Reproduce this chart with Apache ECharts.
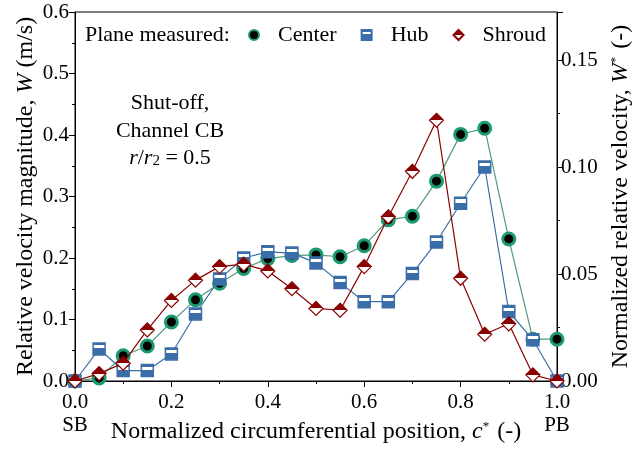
<!DOCTYPE html>
<html>
<head>
<meta charset="utf-8">
<script src="https://cdn.jsdelivr.net/npm/echarts@6/dist/echarts.min.js"></script>
<style>
html,body{margin:0;padding:0;background:#fff;}
#chart{width:639px;height:450px;}
</style>
</head>
<body>
<div id="chart"></div>
<script>
var positions = [0, 0.05, 0.1, 0.15, 0.2, 0.25, 0.3, 0.35, 0.4, 0.45, 0.5, 0.55, 0.6, 0.65, 0.7, 0.75, 0.8, 0.85, 0.9, 0.95, 1.0];
var centerW = [0, 0.005, 0.041, 0.057, 0.096, 0.132, 0.159, 0.183, 0.199, 0.204, 0.205, 0.202, 0.22, 0.262, 0.268, 0.325, 0.401, 0.411, 0.231, 0.068, 0.068];
var hubW = [0, 0.052, 0.017, 0.017, 0.044, 0.109, 0.166, 0.2, 0.21, 0.208, 0.192, 0.16, 0.129, 0.129, 0.175, 0.226, 0.289, 0.348, 0.113, 0.067, 0];
var shroudW = [0, 0.012, 0.029, 0.083, 0.131, 0.164, 0.186, 0.19, 0.179, 0.15, 0.118, 0.115, 0.186, 0.267, 0.341, 0.424, 0.167, 0.076, 0.093, 0.01, 0];
var seriesNames = ['Center', 'Hub', 'Shroud'];
var leftTicks = {min: 0, max: 0.6, interval: 0.1};
var rightTicks = {min: 0, max: 0.1725, interval: 0.05};

function pairs(v) { return positions.map(function (x, i) { return [x, v[i]]; }); }

var FONT = '"Liberation Serif", "Times New Roman", serif';
var green = '#1b9a72', greenLine = '#4f9a80', blue = '#3b6ea8', red = '#8b0000';

var chart = echarts.init(document.getElementById('chart'));
chart.setOption({
  animation: false,
  textStyle: {fontFamily: FONT, color: '#000'},
  grid: {left: 75, right: 82, top: 12, bottom: 69, show: true, borderColor: '#000', borderWidth: 1, outerBoundsMode: 'none', containLabel: false},
  legend: {
    left: 248, top: 24, itemWidth: 10, itemHeight: 10, itemGap: 24, padding: 0,
    textStyle: {fontFamily: FONT, fontSize: 22, color: '#000', padding: [0, 0, 0, 14]},
    data: [
      {name: 'Center', icon: 'circle'},
      {name: 'Hub', icon: 'rect'},
      {name: 'Shroud', icon: 'diamond'}
    ]
  },
  graphic: [
    {type: 'text', x: 85, y: 35, style: {text: 'Plane measured:', font: '22px ' + FONT, fill: '#000', verticalAlign: 'middle'}},
    {type: 'text', x: 170, y: 103, style: {text: 'Shut-off,', font: '22px ' + FONT, fill: '#000', align: 'center', verticalAlign: 'middle'}},
    {type: 'text', x: 170, y: 131, style: {text: 'Channel CB', font: '22px ' + FONT, fill: '#000', align: 'center', verticalAlign: 'middle'}},
    {type: 'text', x: 170, y: 158, style: {
      text: '{i|r}{n|/}{i|r}{s|2}{n| = 0.5}', align: 'center', verticalAlign: 'middle',
      rich: {
        i: {fontFamily: FONT, fontSize: 22, fontStyle: 'italic', fill: '#000'},
        n: {fontFamily: FONT, fontSize: 22, fill: '#000'},
        s: {fontFamily: FONT, fontSize: 15, fill: '#000', verticalAlign: 'bottom', padding: [6, 0, 0, 0]}
      }
    }}
  ],
  xAxis: {
    type: 'value', min: 0, max: 1, interval: 0.2,
    name: '{n|Normalized circumferential position, }{i|c}{s|*}{n| (-)}',
    nameLocation: 'middle', nameGap: 39, nameMoveOverlap: false,
    nameTextStyle: {
      rich: {
        n: {fontFamily: FONT, fontSize: 24, color: '#000'},
        i: {fontFamily: FONT, fontSize: 24, fontStyle: 'italic', color: '#000'},
        s: {fontFamily: FONT, fontSize: 13, color: '#000', verticalAlign: 'top', padding: [0, 2, 8, 0]}
      }
    },
    axisLine: {lineStyle: {color: '#000', width: 1}},
    axisTick: {length: 6, lineStyle: {color: '#000'}},
    minorTick: {show: true, splitNumber: 2, length: 3, lineStyle: {color: '#000'}},
    splitLine: {show: false},
    axisLabel: {
      fontFamily: FONT, fontSize: 21, color: '#000', margin: 10, lineHeight: 23,
      formatter: function (v) {
        var s = v.toFixed(1);
        if (v === 0) return s + '\nSB';
        if (v === 1) return s + '\nPB';
        return s;
      }
    }
  },
  yAxis: [
    {
      type: 'value', min: leftTicks.min, max: leftTicks.max, interval: leftTicks.interval,
      name: '{n|Relative velocity magnitude, }{i|W}{n| (m/s)}',
      nameLocation: 'middle', nameGap: 37, nameRotate: 90, nameMoveOverlap: false,
      nameTextStyle: {
        rich: {
          n: {fontFamily: FONT, fontSize: 24, color: '#000'},
          i: {fontFamily: FONT, fontSize: 24, fontStyle: 'italic', color: '#000'}
        }
      },
      axisLine: {show: true, lineStyle: {color: '#000', width: 1}},
      axisTick: {show: true, length: 6, lineStyle: {color: '#000'}},
      minorTick: {show: true, splitNumber: 2, length: 3, lineStyle: {color: '#000'}},
      splitLine: {show: false},
      axisLabel: {fontFamily: FONT, fontSize: 21, color: '#000', margin: 6, formatter: function (v) { return v.toFixed(1); }}
    },
    {
      type: 'value', position: 'right', min: rightTicks.min, max: rightTicks.max, interval: rightTicks.interval,
      name: '{n|Normalized relative velocity, }{i|W}{s|*}{n| (-)}',
      nameLocation: 'middle', nameGap: 52, nameRotate: 90,
      nameTextStyle: {
        rich: {
          n: {fontFamily: FONT, fontSize: 24, color: '#000'},
          i: {fontFamily: FONT, fontSize: 24, fontStyle: 'italic', color: '#000'},
          s: {fontFamily: FONT, fontSize: 13, color: '#000', verticalAlign: 'top', padding: [0, 2, 8, 0]}
        }
      },
      axisLine: {show: true, lineStyle: {color: '#000', width: 1}},
      axisTick: {show: true, length: 6, lineStyle: {color: '#000'}},
      minorTick: {show: true, splitNumber: 2, length: 3, lineStyle: {color: '#000'}},
      splitLine: {show: false},
      axisLabel: {fontFamily: FONT, fontSize: 21, color: '#000', margin: 4, showMaxLabel: false, formatter: function (v) { return v.toFixed(2); }}
    }
  ],
  series: [
    {
      name: seriesNames[0], type: 'line', data: pairs(centerW),
      symbol: 'circle', symbolSize: 12, showAllSymbol: true,
      lineStyle: {color: greenLine, width: 1.2},
      itemStyle: {color: '#000', borderColor: green, borderWidth: 3},
      z: 2
    },
    {
      name: seriesNames[1], type: 'line', data: pairs(hubW),
      symbol: 'rect', symbolSize: 12, showAllSymbol: true,
      lineStyle: {color: blue, width: 1.2},
      itemStyle: {
        color: new echarts.graphic.LinearGradient(0, 0, 0, 1, [
          {offset: 0, color: blue}, {offset: 0.22, color: blue},
          {offset: 0.22, color: '#fff'}, {offset: 0.45, color: '#fff'},
          {offset: 0.45, color: blue}, {offset: 1, color: blue}
        ]),
        borderColor: blue, borderWidth: 1.5
      },
      z: 3
    },
    {
      name: seriesNames[2], type: 'line', data: pairs(shroudW),
      symbol: 'diamond', symbolSize: 14, showAllSymbol: true,
      lineStyle: {color: red, width: 1.2},
      itemStyle: {
        color: new echarts.graphic.LinearGradient(0, 0, 0, 1, [
          {offset: 0, color: red}, {offset: 0.5, color: red},
          {offset: 0.5, color: '#fff'}, {offset: 1, color: '#fff'}
        ]),
        borderColor: red, borderWidth: 1.2
      },
      z: 4
    }
  ]
});
</script>
</body>
</html>
